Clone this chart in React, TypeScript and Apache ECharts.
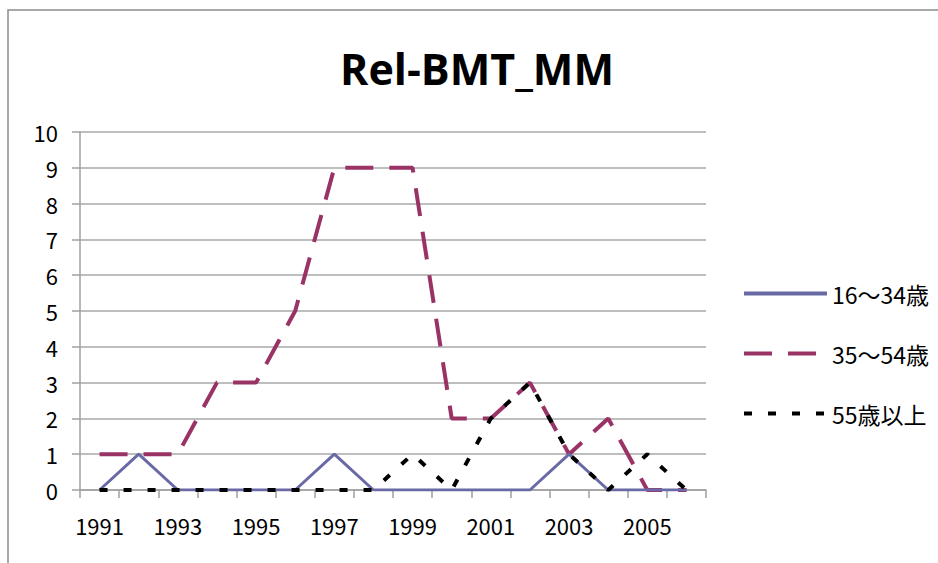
import React, { useEffect, useRef } from "react";
import * as echarts from "echarts";

const years = ["1991","1992","1993","1994","1995","1996","1997","1998","1999","2000","2001","2002","2003","2004","2005","2006"];
const age16to34 = [0,1,0,0,0,0,1,0,0,0,0,0,1,0,0,0];
const age35to54 = [1,1,1,3,3,5,9,9,9,2,2,3,1,2,0,0];
const age55plus = [0,0,0,0,0,0,0,0,1,0,2,3,1,0,1,0];
const seriesNames = ["16～34歳", "35～54歳", "55歳以上"];
const yTicks = { min: 0, max: 10, interval: 1 };
const titleText = "Rel-BMT_MM";

const FONT = "'Noto Sans CJK JP', 'DejaVu Sans', sans-serif";
const COLORS = ["#6969a5", "#993366", "#000000"];
const WIDTHS = [3, 4, 4];
const DASHES: any[] = ["solid", [28, 16], [8, 16]];

export default function App() {
  const ref = useRef<HTMLDivElement>(null);
  useEffect(() => {
    if (!ref.current) return;
    const chart = echarts.init(ref.current, undefined, { renderer: "svg" });
    const datasets = [age16to34, age35to54, age55plus];
    chart.setOption({
      animation: false,
      backgroundColor: "#ffffff",
      graphic: [
        {
          type: "rect",
          shape: { x: 8, y: 10, width: 1000, height: 600 },
          style: { fill: "none", stroke: "#8c8c8c", lineWidth: 1.5 },
          z: -1,
        },
        {
          type: "text",
          x: 477,
          y: 68,
          style: {
            text: titleText,
            fontFamily: "'Open Sans', sans-serif",
            fontWeight: "bold",
            fontSize: 43,
            fill: "#000",
            textAlign: "center",
            textVerticalAlign: "middle",
          },
        },
      ],
      grid: { left: 80, right: 232, top: 132, bottom: 73, containLabel: false },
      legend: {
        orient: "vertical",
        left: 742,
        top: 282,
        padding: 0,
        itemWidth: 83,
        itemHeight: 24,
        itemGap: 37,
        itemStyle: { opacity: 0 },
        lineStyle: { width: 4, cap: "butt" },
        textStyle: { fontFamily: FONT, fontSize: 23, color: "#000" },
        data: seriesNames.map((name, i) => ({
          name,
          itemStyle: { opacity: 0 },
          lineStyle: { width: 4, color: COLORS[i], type: DASHES[i], cap: "butt" },
        })),
      },
      xAxis: {
        type: "category",
        data: years,
        boundaryGap: true,
        axisLine: { show: true, lineStyle: { color: "#a0a0a0", width: 1.5 } },
        axisTick: { show: true, interval: 0, length: 8, lineStyle: { color: "#a0a0a0", width: 1.5 } },
        axisLabel: { interval: 1, margin: 24, fontFamily: FONT, fontSize: 22, color: "#000" },
        splitLine: { show: false },
      },
      yAxis: {
        type: "value",
        min: yTicks.min,
        max: yTicks.max,
        interval: yTicks.interval,
        axisLine: { show: true, lineStyle: { color: "#a0a0a0", width: 1.5 } },
        axisTick: { show: true, length: 8, lineStyle: { color: "#a0a0a0", width: 1.5 } },
        axisLabel: { margin: 22, fontFamily: FONT, fontSize: 22, color: "#000" },
        splitLine: { show: true, lineStyle: { color: "#a8a8a8", width: 1.5 } },
      },
      series: seriesNames.map((name, i) => ({
        name,
        type: "line",
        data: datasets[i],
        symbol: "none",
        color: COLORS[i],
        lineStyle: { color: COLORS[i], width: WIDTHS[i], type: DASHES[i], cap: "butt" },
        z: [3, 2, 4][i],
      })),
    });
    return () => chart.dispose();
  }, []);
  return (
    <div
      ref={ref}
      style={{ position: "fixed", left: 0, top: 0, width: 938, height: 563, background: "#fff" }}
    />
  );
}
